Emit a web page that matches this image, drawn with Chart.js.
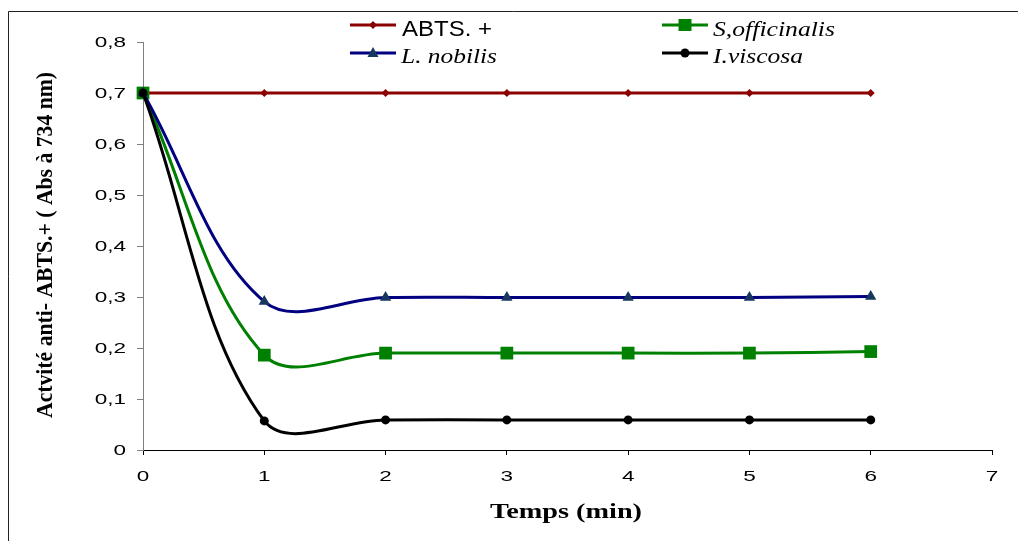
<!DOCTYPE html>
<html>
<head>
<meta charset="utf-8">
<script src="https://cdn.jsdelivr.net/npm/chart.js@4/dist/chart.umd.min.js"></script>
<style>
  body { margin: 0; background: #fff; }
  #wrap { width: 1018px; height: 541px; }
</style>
</head>
<body>
<div id="wrap"><canvas id="myChart" width="1018" height="541"></canvas></div>
<script>
// data
const times = [0, 1, 2, 3, 4, 5, 6];
const abts = [0.7, 0.7, 0.7, 0.7, 0.7, 0.7, 0.7];
const officinalis = [0.7, 0.186, 0.19, 0.19, 0.19, 0.19, 0.193];
const nobilis = [0.7, 0.291, 0.299, 0.299, 0.299, 0.299, 0.301];
const viscosa = [0.7, 0.057, 0.059, 0.059, 0.059, 0.059, 0.059];
const xTicks = [0, 1, 2, 3, 4, 5, 6, 7];
const yTicks = [0, 0.1, 0.2, 0.3, 0.4, 0.5, 0.6, 0.7, 0.8];

const seriesNames = ['ABTS. +', 'S,officinalis', 'L. nobilis', 'I.viscosa'];

function pts(vals) {
  return times.map((t, i) => ({ x: t, y: vals[i] }));
}

function fmt(v) {
  return v === 0 ? '0' : v.toFixed(1).replace('.', ',');
}

// text in the picture is stretched sideways, so draw it scaled
function drawText(ctx, text, x, y, font, opts) {
  ctx.save();
  ctx.font = font;
  ctx.fillStyle = '#000';
  ctx.textAlign = opts.align || 'left';
  ctx.textBaseline = opts.baseline || 'alphabetic';
  let sx = opts.sx || 1;
  if (opts.width) sx = opts.width / ctx.measureText(text).width;
  ctx.translate(x, y);
  if (opts.rotate) ctx.rotate(opts.rotate);
  ctx.scale(sx, 1);
  ctx.fillText(text, 0, 0);
  ctx.restore();
}

function legendMarker(ctx, style, color, x, y) {
  ctx.save();
  ctx.fillStyle = color;
  ctx.beginPath();
  if (style === 'rectRot') {
    ctx.moveTo(x, y - 4); ctx.lineTo(x + 4, y); ctx.lineTo(x, y + 4); ctx.lineTo(x - 4, y);
  } else if (style === 'rect') {
    ctx.rect(x - 6.5, y - 6, 13, 12);
  } else if (style === 'triangle') {
    ctx.moveTo(x, y - 6); ctx.lineTo(x + 5.5, y + 4); ctx.lineTo(x - 5.5, y + 4);
  } else {
    ctx.arc(x, y, 4.5, 0, Math.PI * 2);
  }
  ctx.closePath();
  ctx.fill();
  ctx.restore();
}

const decor = {
  id: 'decor',
  beforeDraw(chart) {
    const ctx = chart.ctx;
    ctx.save();
    ctx.fillStyle = '#fff';
    ctx.fillRect(0, 0, chart.width, chart.height);
    // outer frame
    ctx.strokeStyle = '#222';
    ctx.lineWidth = 1;
    ctx.beginPath();
    ctx.moveTo(8.5, chart.height);
    ctx.lineTo(8.5, 11.5);
    ctx.lineTo(chart.width, 11.5);
    ctx.stroke();
    ctx.restore();
  },
  afterDraw(chart) {
    const ctx = chart.ctx;
    const xs = chart.scales.x, ys = chart.scales.y;

    // tick labels
    yTicks.forEach(v => {
      drawText(ctx, fmt(v), 126, ys.getPixelForValue(v) + 1, '15px "Liberation Sans", Arial', { align: 'right', baseline: 'middle', sx: 1.5 });
    });
    xTicks.forEach(v => {
      drawText(ctx, String(v), xs.getPixelForValue(v), 477, '15px "Liberation Sans", Arial', { align: 'center', baseline: 'middle', sx: 1.5 });
    });

    // axis titles
    drawText(ctx, 'Temps (min)', 566, 518, 'bold 22px "Liberation Serif", "Times New Roman"', { align: 'center', width: 152 });
    drawText(ctx, 'Actvité anti- ABTS.+ ( Abs à 734 nm)', 52, 245, 'bold 23px "Liberation Serif", "Times New Roman"', { align: 'center', width: 346, rotate: -Math.PI / 2 });

    // legend, two columns
    const items = [
      { ds: 3, lx: 350, ly: 25, tx: 402, ty: 36, font: '22px "Liberation Sans", Arial', w: 90 },
      { ds: 2, lx: 662, ly: 25, tx: 713, ty: 36, font: 'italic 22px "Liberation Serif", "Times New Roman"', w: 122 },
      { ds: 1, lx: 350, ly: 53, tx: 401, ty: 63, font: 'italic 22px "Liberation Serif", "Times New Roman"', w: 96 },
      { ds: 0, lx: 662, ly: 53, tx: 713, ty: 63, font: 'italic 22px "Liberation Serif", "Times New Roman"', w: 90 }
    ];
    items.forEach(it => {
      const d = chart.data.datasets[it.ds];
      ctx.save();
      ctx.strokeStyle = d.borderColor;
      ctx.lineWidth = 3;
      ctx.beginPath();
      ctx.moveTo(it.lx, it.ly);
      ctx.lineTo(it.lx + 46, it.ly);
      ctx.stroke();
      ctx.restore();
      legendMarker(ctx, d.pointStyle, d.pointBackgroundColor, it.lx + 23, it.ly);
      drawText(ctx, d.label, it.tx, it.ty, it.font, { width: it.w });
    });
  }
};

const ctx = document.getElementById('myChart').getContext('2d');
const chart = new Chart(ctx, {
  type: 'line',
  data: {
    datasets: [{
      // first dataset sits on top
      label: seriesNames[3],
      data: pts(viscosa),
      borderColor: '#000000',
      pointBackgroundColor: '#000000',
      pointBorderColor: '#000000',
      pointStyle: 'circle',
      pointRadius: 4.5
    }, {
      label: seriesNames[2],
      data: pts(nobilis),
      borderColor: '#000080',
      pointBackgroundColor: '#17375E',
      pointBorderColor: '#17375E',
      pointStyle: 'triangle',
      pointRadius: 6.5
    }, {
      label: seriesNames[1],
      data: pts(officinalis),
      borderColor: '#008000',
      pointBackgroundColor: '#008000',
      pointBorderColor: '#008000',
      pointStyle: 'rect',
      pointRadius: 9
    }, {
      label: seriesNames[0],
      data: pts(abts),
      borderColor: '#8B0000',
      pointBackgroundColor: '#8B0000',
      pointBorderColor: '#8B0000',
      pointStyle: 'rectRot',
      pointRadius: 4
    }]
  },
  options: {
    responsive: false,
    animation: false,
    events: [],
    layout: { padding: { left: 0, right: 26, top: 42, bottom: 0 } },
    elements: {
      line: { borderWidth: 3, tension: 0.36, fill: false },
      point: { borderWidth: 0, hoverRadius: 0 }
    },
    datasets: { line: { clip: false } },
    plugins: {
      legend: { display: false },
      tooltip: { enabled: false }
    },
    scales: {
      x: {
        type: 'linear',
        min: 0,
        max: 7,
        afterFit(scale) { scale.height = 91; },
        ticks: { stepSize: 1, color: 'rgba(0,0,0,0)', font: { size: 15 } },
        grid: { drawOnChartArea: false, drawTicks: true, tickLength: 5, color: '#000' },
        border: { color: '#000', width: 1 }
      },
      y: {
        min: 0,
        max: 0.8,
        afterFit(scale) { scale.width = 143; },
        ticks: { stepSize: 0.1, color: 'rgba(0,0,0,0)', font: { size: 15 } },
        grid: { drawOnChartArea: false, drawTicks: true, tickLength: 6, color: '#808080' },
        border: { color: '#808080', width: 1 }
      }
    }
  },
  plugins: [decor]
});
</script>
</body>
</html>
